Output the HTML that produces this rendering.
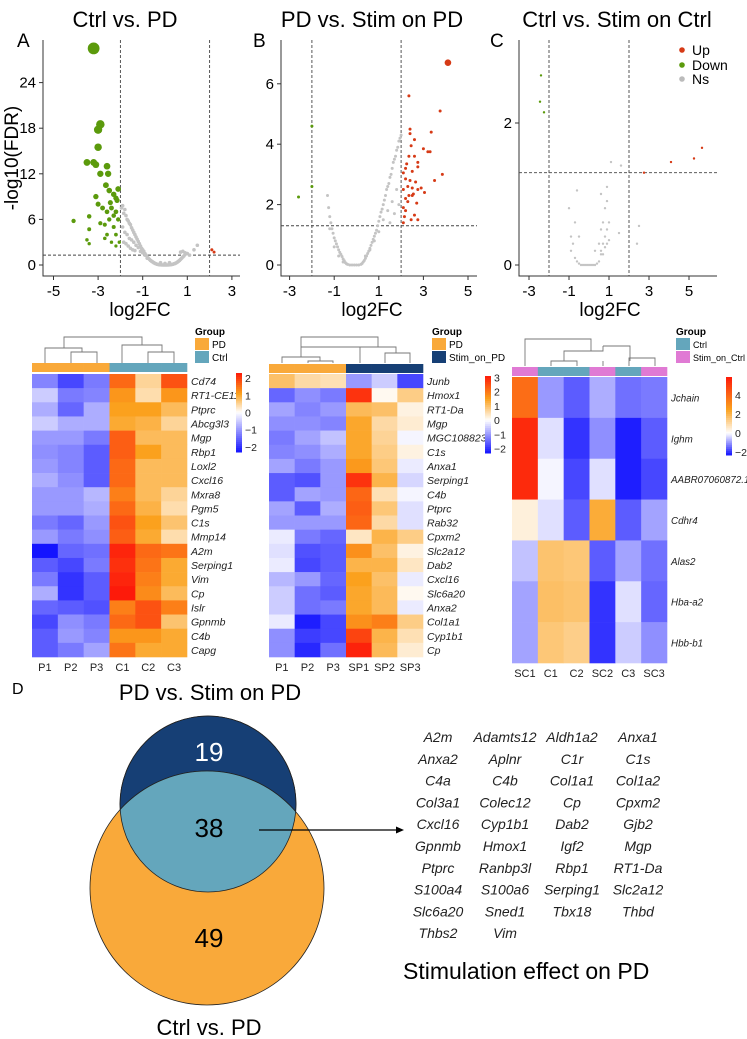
<!DOCTYPE html>
<html><head><meta charset="utf-8"><style>
html,body{margin:0;padding:0;background:#fff;}
svg{display:block;font-family:"Liberation Sans",sans-serif;}
</style></head><body>
<svg id="fig" width="747" height="1039" viewBox="0 0 747 1039" xmlns="http://www.w3.org/2000/svg">
<g id="volc"></g>
<g id="heat"></g>
<g id="venn">
  <text x="12" y="694" font-size="16">D</text>
  <text x="210" y="700" font-size="22" text-anchor="middle">PD vs. Stim on PD</text>
  <circle cx="208" cy="804" r="88" fill="#163f75" stroke="#222" stroke-width="0.8"/>
  <circle cx="207" cy="888" r="117" fill="#f9a93a" stroke="#222" stroke-width="0.8"/>
  <clipPath id="cl"><circle cx="208" cy="804" r="88"/></clipPath>
  <circle cx="207" cy="888" r="117" fill="#64a6bc" stroke="#222" stroke-width="0.8" clip-path="url(#cl)"/>
  <circle cx="208" cy="804" r="88" fill="none" stroke="#222" stroke-width="0.8"/>
  <text x="209" y="761" font-size="26" fill="#fff" text-anchor="middle">19</text>
  <text x="209" y="837" font-size="26" text-anchor="middle">38</text>
  <text x="209" y="947" font-size="26" text-anchor="middle">49</text>
  <text x="209" y="1035" font-size="22" text-anchor="middle">Ctrl vs. PD</text>
  <line x1="259" y1="830" x2="398" y2="830" stroke="#000" stroke-width="1.3"/>
  <polygon points="404,830 396,826.5 396,833.5" fill="#000"/>
</g>
<g id="genes"></g>
<text x="403" y="979" font-size="23">Stimulation effect on PD</text>
</svg>
<script>
// ===== Volcano data =====
const aDownX=[-3.2,-2.9,-3.0,-3.0,-3.5,-3.2,-3.1,-2.6,-2.9,-2.55,-2.65,-2.5,-3.1,-2.3,-2.2,-2.1,-3.0,-2.8,-2.4,-2.2,-4.1,-3.4,-3.4,-2.9,-2.7,-2.5,-2.3,-2.6,-3.5,-3.4,-2.7,-2.4,-2.2,-2.1,-2.3,-2.6,-2.05,-2.2,-2.45,-2.15];
const aDownY=[28.5,18.5,17.8,15.5,13.5,13.5,13.2,13,12,12,10.5,9.8,9,9.3,8.8,10,8,7.5,7.5,7,5.8,6.4,4.7,5.5,5.3,6,5,4,3.3,2.8,3.5,3,4,6,6.5,7,3,2.5,8.2,8.5];
const aUpX=[2.1,2.2];
const aUpY=[2.0,1.7];
const aNsX=[-1.95,-1.9,-1.85,-1.8,-1.75,-1.7,-1.65,-1.6,-1.55,-1.5,-1.45,-1.4,-1.35,-1.3,-1.25,-1.2,-1.15,-1.1,-1.05,-1.0,-0.95,-0.9,-0.85,-0.8,-0.75,-0.7,-0.65,-0.6,-0.55,-0.5,-0.45,-0.4,-0.35,-0.3,-0.25,-0.2,-0.15,-0.1,-0.05,0,0.05,0.1,0.15,0.2,0.25,0.3,0.35,0.4,0.45,0.5,0.55,0.6,0.65,0.7,0.75,0.8,0.85,0.9,-1.9,-1.8,-1.7,-1.6,-1.5,-1.4,-1.3,-1.2,-1.1,-1.0,-0.9,-0.8,-1.85,-1.75,-1.65,-1.55,-1.45,-1.35,0.9,1.0,1.1,1.3,1.45,0.8,0.7,-0.2,0.0,0.2];
const aNsY=[7.5,7.8,6.8,7.3,6.5,6.0,5.8,5.5,5.3,4.9,4.6,4.3,4.0,3.7,3.4,3.1,2.8,2.5,2.2,2.0,1.8,1.5,1.3,1.1,0.9,0.75,0.6,0.5,0.4,0.3,0.22,0.15,0.1,0.06,0.03,0.02,0.01,0,0,0,0,0,0.01,0.02,0.04,0.07,0.1,0.15,0.2,0.28,0.37,0.48,0.6,0.75,0.9,1.05,1.2,1.4,5.0,4.3,4.0,3.5,3.3,3.0,2.6,2.3,1.8,1.6,1.3,0.9,3.0,2.8,2.5,2.2,2.0,1.9,1.6,1.5,1.3,2.0,2.6,1.8,1.7,0.3,0.2,0.3];

const bUpX=[4.1,2.35,3.75,3.35,2.4,2.4,2.6,2.45,3.0,3.2,3.3,2.6,2.35,2.75,2.25,2.2,2.75,3.85,2.1,2.5,2.2,2.4,2.65,3.5,2.1,2.3,2.5,2.75,2.9,3.05,2.55,2.2,2.35,2.5,2.3,2.1,2.7,2.2,2.15,2.6,2.45,2.75,2.1];
const bUpY=[6.7,5.6,5.1,4.4,4.5,4.35,4.15,3.95,3.85,3.75,3.75,3.6,3.6,3.4,3.35,3.2,3.25,3.0,3.05,3.1,2.85,2.8,2.75,2.8,2.5,2.6,2.55,2.5,2.55,2.4,2.35,2.2,2.3,2.3,2.1,1.9,2.05,1.8,1.6,1.65,1.5,1.5,1.4];
const bDownX=[-2.6,-2.0,-2.0];
const bDownY=[2.25,4.6,2.6];
const bNsX=[-1.3,-1.25,-1.2,-1.15,-1.1,-1.05,-1.0,-0.95,-0.9,-0.85,-0.8,-0.75,-0.7,-0.65,-0.6,-0.55,-0.5,-0.45,-0.4,-0.3,-0.2,-0.1,0,0.1,0.2,0.25,0.3,0.35,0.4,0.45,0.5,0.55,0.6,0.65,0.7,0.75,0.8,0.85,0.9,0.95,1.0,1.05,1.1,1.15,1.2,1.25,1.3,1.35,1.4,1.45,1.5,1.55,1.6,1.65,1.7,1.75,1.8,1.85,1.9,1.95,2.0,-1.2,-1.0,-0.8,-0.6,0.4,0.6,0.8,1.0,1.2,1.4,1.6,1.8,1.5,1.7,1.9];
const bNsY=[2.3,1.9,1.6,1.4,1.2,1.05,0.9,0.8,0.7,0.6,0.5,0.42,0.35,0.28,0.2,0.14,0.08,0.04,0.02,0,0,0,0,0,0.02,0.05,0.1,0.15,0.22,0.3,0.38,0.46,0.55,0.65,0.75,0.85,0.95,1.05,1.15,1.3,1.45,1.6,1.75,1.85,2.0,2.15,2.3,2.5,2.6,2.7,2.9,3.0,3.2,3.4,3.5,3.6,3.8,3.9,4.1,4.2,4.3,1.2,0.6,0.3,0.1,0.3,0.5,0.8,1.1,1.5,1.8,2.1,2.5,1.4,1.7,2.0];

const cUpX=[2.75,4.1,5.25,5.65];
const cUpY=[1.3,1.45,1.5,1.65];
const cDownX=[-2.4,-2.45,-2.25];
const cDownY=[2.67,2.3,2.15];
const cNsX=[-0.9,-0.8,-0.7,-0.6,-0.5,-0.4,-0.3,-0.2,-0.1,0,0.1,0.2,0.3,0.4,0.5,0.6,0.7,0.8,0.9,1.0,-0.9,-0.7,-0.5,0.5,0.6,0.7,0.8,0.9,0.6,0.7,0.8,0.9,1.0,1.5,-0.6,-1.0,0.6,0.9,1.1,1.6,2.4,2.5,0.3];
const cNsY=[0.4,0.3,0.1,0.05,0.02,0,0,0,0,0,0,0,0,0.02,0.05,0.15,0.3,0.4,0.5,0.6,0.2,0.6,0.4,0.3,0.5,0.6,0.8,0.9,0.2,0.15,0.25,0.3,0.35,0.45,1.05,0.8,1.0,1.1,1.45,1.4,0.3,0.55,0.2];

const aXTicks=[-5,-3,-1,1,3]; const aYTicks=[0,6,12,18,24];
const bXTicks=[-3,-1,1,3,5]; const bYTicks=[0,2,4,6];
const cXTicks=[-3,-1,1,3,5]; const cYTicks=[0,2];

// ===== Heatmap data =====
const hmAGenes=["Cd74","RT1-CE11","Ptprc","Abcg3l3","Mgp","Rbp1","Loxl2","Cxcl16","Mxra8","Pgm5","C1s","Mmp14","A2m","Serping1","Vim","Cp","Islr","Gpnmb","C4b","Capg"];
const hmASamples=["P1","P2","P3","C1","C2","C3"];
const hmAValues=[
[-1.2,-1.8,-1.3,1.6,0.5,1.8],[-0.5,-1.3,-1.2,1.2,0.4,1.2],[-0.8,-1.5,-0.8,1.1,1.1,0.8],[-0.5,-0.8,-0.8,1.0,0.9,0.5],
[-1.0,-1.0,-1.3,1.7,0.8,0.8],[-1.1,-1.2,-1.6,1.7,1.1,0.8],[-1.0,-1.2,-1.6,1.6,0.8,0.8],[-0.8,-1.1,-1.6,1.6,0.8,0.8],
[-1.0,-1.0,-0.7,1.4,0.8,0.5],[-1.0,-1.0,-0.8,1.6,0.9,0.4],[-1.3,-1.5,-1.0,1.8,1.1,0.7],[-1.0,-1.3,-1.1,1.7,1.0,0.4],
[-2.3,-1.5,-1.4,2.2,1.6,1.5],[-1.6,-1.8,-1.3,2.1,1.5,1.0],[-1.3,-2.0,-1.6,2.2,1.4,1.0],[-0.8,-2.0,-1.6,2.3,1.3,0.8],
[-1.5,-1.6,-1.7,1.4,1.8,1.4],[-1.8,-1.1,-1.3,1.6,1.8,0.7],[-1.6,-1.0,-1.2,1.2,1.2,1.0],[-1.6,-1.3,-0.9,1.5,1.0,1.0]];
const hmAGroups=["PD","PD","PD","Ctrl","Ctrl","Ctrl"];
const hmAScaleTicks=[2,1,0,-1,-2];

const hmBGenes=["Junb","Hmox1","RT1-Da","Mgp","MGC108823","C1s","Anxa1","Serping1","C4b","Ptprc","Rab32","Cpxm2","Slc2a12","Dab2","Cxcl16","Slc6a20","Anxa2","Col1a1","Cyp1b1","Cp"];
const hmBSamples=["P1","P2","P3","SP1","SP2","SP3"];
const hmBValues=[
[1.0,0.6,0.5,-1.0,-0.5,-1.8],[-1.5,-1.1,-1.3,2.8,0.1,0.8],[-0.9,-1.2,-1.0,1.1,1.0,0.2],[-1.1,-1.1,-1.2,1.4,0.6,0.3],
[-1.3,-0.9,-0.6,1.4,0.7,-0.1],[-1.2,-1.1,-0.8,1.4,0.8,0.2],[-0.9,-1.3,-1.0,1.6,0.9,-0.2],[-1.6,-1.7,-1.0,2.8,1.2,-0.4],
[-1.6,-0.9,-1.0,2.2,0.5,-0.1],[-0.9,-1.6,-0.8,2.3,0.9,-0.3],[-1.0,-1.0,-1.0,2.2,0.6,-0.3],[-0.2,-1.3,-1.5,0.4,1.2,0.8],
[-0.3,-1.7,-1.6,1.7,1.0,0.2],[-0.2,-1.8,-1.6,1.2,1.2,0.4],[-0.7,-1.0,-1.5,1.5,1.0,-0.2],[-0.5,-1.4,-1.6,1.4,1.1,0.1],
[-0.5,-1.4,-1.3,1.4,1.1,-0.2],[-0.2,-2.2,-1.8,1.7,1.9,0.8],[-1.1,-1.9,-1.8,2.6,1.2,0.5],[-1.1,-2.1,-1.4,3.0,1.1,0.3]];
const hmBGroups=["PD","PD","PD","Stim_on_PD","Stim_on_PD","Stim_on_PD"];
const hmBScaleTicks=[3,2,1,0,-1,-2];

const hmCGenes=["Jchain","Ighm","AABR07060872.1","Cdhr4","Alas2","Hba-a2","Hbb-b1"];
const hmCSamples=["SC1","C1","C2","SC2","C3","SC3"];
const hmCValues=[
[3.8,-1.0,-1.6,-0.8,-1.4,-1.3],[5.5,-0.3,-2.0,-1.1,-2.2,-1.6],[5.5,-0.1,-1.8,-0.3,-2.2,-1.8],[0.4,-0.3,-1.6,2.2,-1.6,-0.9],
[-0.6,1.6,1.5,-1.6,-0.9,-1.4],[-0.9,1.7,1.6,-2.0,-0.3,-1.5],[-0.9,1.5,1.3,-2.0,-0.5,-1.1]];
const hmCGroups=["Stim_on_Ctrl","Ctrl","Ctrl","Stim_on_Ctrl","Ctrl","Stim_on_Ctrl"];
const hmCScaleTicks=[4,2,0,-2];

const sharedGenes=["A2m","Adamts12","Aldh1a2","Anxa1","Anxa2","Aplnr","C1r","C1s","C4a","C4b","Col1a1","Col1a2","Col3a1","Colec12","Cp","Cpxm2","Cxcl16","Cyp1b1","Dab2","Gjb2","Gpnmb","Hmox1","Igf2","Mgp","Ptprc","Ranbp3l","Rbp1","RT1-Da","S100a4","S100a6","Serping1","Slc2a12","Slc6a20","Sned1","Tbx18","Thbd","Thbs2","Vim"];

const NS="http://www.w3.org/2000/svg";
function mk(tag,attrs,parent){const e=document.createElementNS(NS,tag);for(const k in attrs)e.setAttribute(k,attrs[k]);if(parent)parent.appendChild(e);return e;}
function txt(s,attrs,parent){const e=mk('text',attrs,parent);e.textContent=s;return e;}

const GREEN="#5b9a0c",RED="#d63a16",GRAY="#c4c4c4";
const volc=document.getElementById('volc');

function volcano(cfg){
  const g=mk('g',{},volc);
  
  
  const sx=v=>cfg.x0+v*cfg.kx, sy=v=>cfg.y0-v*cfg.ky;
  const t=txt(cfg.title,{x:cfg.titleX,y:27,'font-size':22,'text-anchor':'middle'},g);
  
  
  const l=txt(cfg.letter,{x:cfg.letterX,y:47,'font-size':19},g);
  
  
  const ax=mk('path',{d:`M${cfg.left},40V${cfg.bottom}H${cfg.right}`,fill:'none',stroke:'#333','stroke-width':1},g);
  
  
  cfg.xt.forEach(v=>{
    mk('line',{x1:sx(v),x2:sx(v),y1:cfg.bottom,y2:cfg.bottom+4,stroke:'#333'},g);
    const tl=txt(v,{x:sx(v),y:cfg.bottom+20,'font-size':15,'text-anchor':'middle'},g);
    
    
  });
  cfg.yt.forEach(v=>{
    mk('line',{x1:cfg.left-4,x2:cfg.left,y1:sy(v),y2:sy(v),stroke:'#333'},g);
    const tl=txt(v,{x:cfg.left-7,y:sy(v)+5,'font-size':15,'text-anchor':'end'},g);
    
    
  });
  const xl=txt('log2FC',{x:cfg.xlabX,y:316,'font-size':19,'text-anchor':'middle'},g);
  
  
  [-2,2].forEach(v=>mk('line',{x1:sx(v),x2:sx(v),y1:40,y2:cfg.bottom,stroke:'#444','stroke-dasharray':'3,2','stroke-width':0.9},g));
  mk('line',{x1:cfg.left,x2:cfg.right,y1:sy(1.3),y2:sy(1.3),stroke:'#444','stroke-dasharray':'3,2','stroke-width':0.9},g);
  cfg.nsX.forEach((v,i)=>{const c=mk('circle',{cx:sx(v),cy:sy(cfg.nsY[i]),r:cfg.nsR,fill:GRAY},g);
    
    });
  cfg.dnX.forEach((v,i)=>{const c=mk('circle',{cx:sx(v),cy:sy(cfg.dnY[i]),r:cfg.rf(cfg.dnY[i]),fill:GREEN},g);
    
    });
  cfg.upX.forEach((v,i)=>{const c=mk('circle',{cx:sx(v),cy:sy(cfg.upY[i]),r:cfg.rf(cfg.upY[i]),fill:RED},g);
    
    });
}
volcano({name:'volcano-ctrl-vs-pd',title:'Ctrl vs. PD',titleX:125,letter:'A',letterX:17,left:43,right:240,bottom:276,x0:165,kx:22.3,y0:265,ky:7.6,
  xt:aXTicks,yt:aYTicks,xlabX:140,nsX:aNsX,nsY:aNsY,nsR:1.8,dnX:aDownX,dnY:aDownY,upX:aUpX,upY:aUpY,rf:y=>Math.min(6,1.2+y*0.165)});
volcano({name:'volcano-pd-vs-stim',title:'PD vs. Stim on PD',titleX:372,letter:'B',letterX:253,left:281,right:477,bottom:276,x0:356.5,kx:22.3,y0:265,ky:30.2,
  xt:bXTicks,yt:bYTicks,xlabX:372,nsX:bNsX,nsY:bNsY,nsR:1.5,dnX:bDownX,dnY:bDownY,upX:bUpX,upY:bUpY,rf:y=>y>6?3.3:1.5});
volcano({name:'volcano-ctrl-vs-stim',title:'Ctrl vs. Stim on Ctrl',titleX:617,letter:'C',letterX:490,left:519,right:717,bottom:276,x0:589,kx:20,y0:265,ky:71,
  xt:cXTicks,yt:cYTicks,xlabX:610,nsX:cNsX,nsY:cNsY,nsR:1.2,dnX:cDownX,dnY:cDownY,upX:cUpX,upY:cUpY,rf:y=>1.2});
const yt=txt('-log10(FDR)',{x:0,y:0,'font-size':19,'text-anchor':'middle',transform:'translate(18,158) rotate(-90)'},volc);


[["Up",RED,50],["Down",GREEN,65],["Ns","#bbb",79]].forEach(([n,c,y])=>{
  const lg=mk('g',{},volc);
  
  
  mk('circle',{cx:682,cy:y,r:2.8,fill:c},lg);
  txt(n,{x:692,y:y+5,'font-size':14},lg);
});

// ===== Heatmaps =====
const heat=document.getElementById('heat');
function hx(h){return [1,3,5].map(i=>parseInt(h.substr(i,2),16));}
function lerp(a,b,t){const A=hx(a),B=hx(b);return 'rgb('+A.map((v,i)=>Math.round(v+(B[i]-v)*t)).join(',')+')';}
function colorFn(vmin,mid,vmax){return v=>{
  if(v<=0){const t=Math.min(1,v/vmin);return lerp('#ffffff','#1414ff',t);}
  if(v<=mid) return lerp('#ffffff','#fba11d',v/mid);
  return lerp('#fba11d','#fd1a0a',Math.min(1,(v-mid)/(vmax-mid)));};}
const GC={PD:'#f9a93a',Ctrl:'#64a6bc',Stim_on_PD:'#163f75',Stim_on_Ctrl:'#e07ad4'};

function heatmap(cfg){
  const g=mk('g',{},heat);
  
  
  const nr=cfg.genes.length,nc=cfg.samples.length;
  const cw=cfg.w/nc,rh=cfg.h/nr;
  const col=colorFn(cfg.vmin,cfg.mid,cfg.vmax);
  cfg.values.forEach((row,r)=>row.forEach((v,c)=>{
    const rc=mk('rect',{x:cfg.x+c*cw,y:cfg.y+r*rh,width:cw+0.3,height:rh+0.3,fill:col(v)},g);
    
    
  }));
  cfg.genes.forEach((n,r)=>{
    const t=txt(n,{x:cfg.x+cfg.w+4,y:cfg.y+r*rh+rh/2+4,'font-size':cfg.gf,'font-style':'italic',fill:'#222'},g);
    
    
  });
  cfg.samples.forEach((n,c)=>{
    const t=txt(n,{x:cfg.x+c*cw+cw/2,y:cfg.y+cfg.h+14,'font-size':11,'text-anchor':'middle',fill:'#222'},g);
    
    
  });
  cfg.groups.forEach((n,c)=>{
    const r=mk('rect',{x:cfg.x+c*cw,y:cfg.gy,width:cw+0.3,height:9,fill:GC[n]},g);
    
    
  });
  const d=mk('path',{d:cfg.dendro,fill:'none',stroke:'#777','stroke-width':0.9},g);
  
  
  const lg=mk('g',{},g);
  
  
  txt('Group',{x:cfg.lx,y:335,'font-size':10,'font-weight':'bold'},lg);
  cfg.legendGroups.forEach((n,i)=>{
    mk('rect',{x:cfg.lx,y:338+i*13,width:14,height:12,fill:GC[n]},lg);
    txt(n,{x:cfg.lx+17,y:348+i*13,'font-size':cfg.lf},lg);
  });
  const cs=mk('g',{},g);
  
  
  const N=40;
  for(let i=0;i<N;i++){const v=cfg.vmax-(cfg.vmax-cfg.vmin)*(i+0.5)/N;
    mk('rect',{x:cfg.sx,y:cfg.sy+i*cfg.sh/N,width:6,height:cfg.sh/N+0.5,fill:col(v)},cs);}
  cfg.ticks.forEach(v=>{
    const yy=cfg.sy+(cfg.vmax-v)/(cfg.vmax-cfg.vmin)*cfg.sh;
    txt(v<0?'\u2212'+(-v):v,{x:cfg.sx+9,y:yy+4,'font-size':10.5,fill:'#222'},cs);
  });
}
heatmap({name:'heatmap-ctrl-vs-pd',x:32,y:374,w:155,h:283,gy:363,genes:hmAGenes,samples:hmASamples,values:hmAValues,groups:hmAGroups,gf:10.5,lf:10,
  vmin:-2.3,mid:1.1,vmax:2.3,lx:195,legendGroups:["PD","Ctrl"],sx:236,sy:373,sh:79,ticks:hmAScaleTicks,
  dendro:"M45,363V348H82V352M71,363V352H97V363M64,348V337H142V345M122,363V345H162V352M148,363V352H174V363"});
heatmap({name:'heatmap-pd-vs-stim',x:269,y:374,w:154,h:283,gy:364,genes:hmBGenes,samples:hmBSamples,values:hmBValues,groups:hmBGroups,gf:10.5,lf:10,
  vmin:-2.3,mid:1.5,vmax:3.1,lx:432,legendGroups:["PD","Stim_on_PD"],sx:485,sy:376,sh:77,ticks:hmBScaleTicks,
  dendro:"M282,363V357H320V361M308,363V361H333V363M301,357V347H378V337H301V347M360,363V347H396V353M385,363V353H410V363"});
heatmap({name:'heatmap-ctrl-vs-stim',x:512,y:377,w:155,h:286,gy:367,genes:hmCGenes,samples:hmCSamples,values:hmCValues,groups:hmCGroups,gf:9.8,lf:9,
  vmin:-2.3,mid:2.5,vmax:5.9,lx:676,legendGroups:["Ctrl","Stim_on_Ctrl"],sx:726,sy:377,sh:78,ticks:hmCScaleTicks,
  dendro:"M525,366V339H591V351M551,366V361H577V366M564,361V351H603V346M603,346H630V361M603,361V366M603,361M629,366V358H655V366M630,361V358M564,351H566"});

// ===== Gene list =====
const gl=document.getElementById('genes');
const colX=[438,505,572,638];
sharedGenes.forEach((n,i)=>{
  const t=txt(n,{x:colX[i%4],y:742+Math.floor(i/4)*21.8,'font-size':14,'font-style':'italic','text-anchor':'middle',fill:'#222'},gl);
  
  
});
</script>
</body></html>
